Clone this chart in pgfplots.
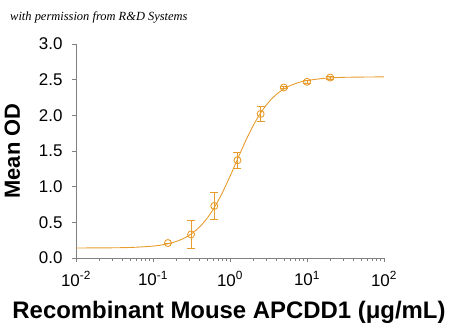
\documentclass[border=0pt]{standalone}
\usepackage{pgfplots}
\pgfplotsset{compat=1.18}
\usepackage{fontspec}
\setmainfont{Liberation Sans}
\newfontfamily\wmfont{Liberation Serif}
\definecolor{curve}{RGB}{232,156,46}
\definecolor{axisgray}{RGB}{128,128,128}

\pgfplotstableread{
x y e
0.15625 0.21 0.00
0.3125 0.33 0.19
0.625 0.73 0.19
1.25 1.37 0.11
2.5 2.02 0.10
5 2.39 0.02
10 2.47 0.02
20 2.53 0.02
}\pointdata

\pgfplotstableread{
x y
0.01 0.1404
0.031623 0.1434
0.056234 0.1497
0.1 0.1671
0.133352 0.1851
0.177828 0.2148
0.237137 0.2630
0.316228 0.3395
0.421697 0.4571
0.562341 0.6285
0.749894 0.8606
1.0 1.1448
1.333521 1.4536
1.778279 1.7479
2.371374 1.9955
3.162278 2.1829
4.216965 2.3137
5.623413 2.3998
7.498942 2.4545
10.0 2.4883
17.782794 2.5214
31.622777 2.5334
100 2.5392
}\curvedata

\begin{document}
\begin{tikzpicture}[x=1bp,y=1bp]
\useasboundingbox (-76,-73) rectangle (374,258);
\node[anchor=base west, inner sep=0pt] at (-66,238) {\wmfont\itshape\fontsize{12.5}{14}\selectfont with permission from R\&D Systems};
\begin{axis}[
  scale only axis, width=308bp, height=214bp,
  xmode=log, xmin=0.01, xmax=100, ymin=0, ymax=3,
  axis x line*=bottom, axis y line*=left,
  axis line style={-, draw=axisgray, line width=0.6pt},
  tick align=outside,
  major tick length=4bp, minor tick length=2.5bp,
  tick style={draw=axisgray, line width=0.6pt},
  xtick={0.01,0.1,1,10,100},
  xticklabels={10\textsuperscript{-2},10\textsuperscript{-1},10\textsuperscript{0},10\textsuperscript{1},10\textsuperscript{2}},
  ytick={0,0.5,1,1.5,2,2.5,3},
  yticklabels={0.0,0.5,1.0,1.5,2.0,2.5,3.0},
  ticklabel style={font=\fontsize{17}{20}\selectfont, text=black},
  yticklabel style={xshift=-6bp},
  xticklabel style={yshift=-6bp},
  clip=false,
]
\addplot[curve, line width=0.9pt, smooth, no marks] table[x=x,y=y] {\curvedata};
\addplot[curve, line width=0.9pt, only marks, mark=o, mark size=3.5bp,
  mark options={curve, line width=0.9pt},
  error bars/.cd, y dir=both, y explicit,
  error bar style={curve, line width=0.9pt},
  error mark options={rotate=90, mark size=4bp, curve, line width=0.9pt}]
  table[x=x,y=y,y error=e] {\pointdata};
\end{axis}
\node[anchor=base, inner sep=0pt, font=\fontsize{24}{26}\selectfont\bfseries] at (153,-60) {Recombinant Mouse APCDD1 (μg/mL)};
\node[anchor=base, inner sep=0pt, rotate=90, font=\fontsize{22}{24}\selectfont\bfseries] at (-56,107) {Mean OD};
\end{tikzpicture}
\end{document}
